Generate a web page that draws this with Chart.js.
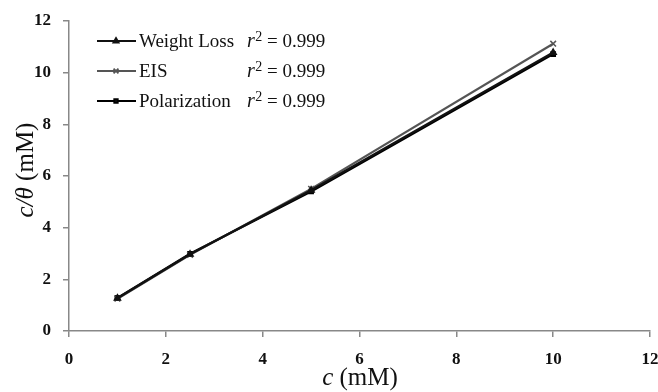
<!DOCTYPE html>
<html>
<head>
<meta charset="utf-8">
<script src="https://cdn.jsdelivr.net/npm/chart.js@4/dist/chart.umd.min.js"></script>
<style>
  html, body { margin: 0; padding: 0; background: #fff; }
  #wrap { width: 658px; height: 392px; position: relative; }
</style>
</head>
<body>
<div id="wrap"><canvas id="grafico"></canvas></div>
<script>
// datos
const concentraciones = [1, 2.5, 5, 10];
const perdidaPeso = [1.27, 2.97, 5.45, 10.78];
const eis = [1.25, 2.95, 5.5, 11.12];
const polarizacion = [1.28, 2.99, 5.4, 10.72];
const nombresSeries = ["Weight Loss", "EIS", "Polarization"];
const valoresR2 = ["0.999", "0.999", "0.999"];
const ticksEjes = [0, 2, 4, 6, 8, 10, 12];

const serif = '"Liberation Serif", "Times New Roman", serif';
const estilos = [
  { color: "#111", punto: "triangle", radio: 3.5 },
  { color: "#555", punto: "crossRot", radio: 4 },
  { color: "#000", punto: "rect", radio: 3 }
];

function puntos(valores) {
  return concentraciones.map((c, i) => ({ x: c, y: valores[i] }));
}

const series = [perdidaPeso, eis, polarizacion];
const datasets = series.map((valores, i) => ({
  label: nombresSeries[i],
  data: puntos(valores),
  borderColor: estilos[i].color,
  backgroundColor: estilos[i].color,
  borderWidth: 2.2,
  pointStyle: estilos[i].punto,
  pointRadius: estilos[i].radio,
  pointBorderWidth: 1.5,
  tension: 0
}));

//leyenda y titulos de ejes dibujados a mano (estilos mezclados)
const extras = {
  id: "extras",
  afterDraw(chart) {
    const ctx = chart.ctx;
    ctx.save();
    ctx.fillStyle = "#111";
    ctx.textBaseline = "middle";
    const filas = [41, 71, 101];
    nombresSeries.forEach((nombre, i) => {
      const y = filas[i];
      ctx.strokeStyle = estilos[i].color;
      ctx.lineWidth = 1.8;
      ctx.beginPath();
      ctx.moveTo(97, y);
      ctx.lineTo(136, y);
      ctx.stroke();
      Chart.helpers.drawPoint(ctx, {
        pointStyle: estilos[i].punto,
        radius: estilos[i].radio - 0.5,
        borderWidth: 1.3
      }, 116, y);
      ctx.fillStyle = "#111";
      ctx.font = "19px " + serif;
      ctx.textAlign = "left";
      ctx.fillText(nombre, 139, y + 1);
      // r^2 = 0.999
      let x = 247;
      ctx.font = "italic 20px " + serif;
      ctx.fillText("r", x, y + 1);
      x += ctx.measureText("r").width + 0.5;
      ctx.font = "14px " + serif;
      ctx.fillText("2", x, y - 4);
      x += ctx.measureText("2").width;
      ctx.font = "19px " + serif;
      ctx.fillText(" = " + valoresR2[i], x, y + 1);
    });

    // titulo eje x: c (mM)
    ctx.textBaseline = "alphabetic";
    ctx.font = "italic 25px " + serif;
    const wc = ctx.measureText("c").width;
    ctx.font = "25px " + serif;
    const wr = ctx.measureText(" (mM)").width;
    let x0 = 360 - (wc + wr) / 2;
    ctx.font = "italic 25px " + serif;
    ctx.fillText("c", x0, 385);
    ctx.font = "25px " + serif;
    ctx.fillText(" (mM)", x0 + wc, 385);

    // titulo eje y: c/θ (mM)
    ctx.translate(33, 170);
    ctx.rotate(-Math.PI / 2);
    ctx.font = "italic 25px " + serif;
    const wi = ctx.measureText("c/θ").width;
    ctx.font = "25px " + serif;
    const wm = ctx.measureText(" (mM)").width;
    x0 = -(wi + wm) / 2;
    ctx.font = "italic 25px " + serif;
    ctx.fillText("c/θ", x0, 0);
    ctx.font = "25px " + serif;
    ctx.fillText(" (mM)", x0 + wi, 0);
    ctx.restore();
  }
};

function ejeComun() {
  return {
    type: "linear",
    min: 0,
    max: 12,
    afterBuildTicks: s => { s.ticks = ticksEjes.map(v => ({ value: v })); },
    border: { display: true, color: "#888", width: 1.5 },
    grid: { display: true, drawOnChartArea: false, drawTicks: true, tickLength: 6, color: "#888", lineWidth: 1.5 },
    title: { display: false }
  };
}

const ejeX = ejeComun();
ejeX.ticks = { color: "#111", font: { family: serif, size: 17, weight: "bold" }, padding: 12, maxRotation: 0 };
ejeX.afterFit = s => { s.height = 61; s.paddingLeft = 0; s.paddingRight = 0; };

const ejeY = ejeComun();
ejeY.ticks = { color: "#111", font: { family: serif, size: 17, weight: "bold" }, padding: 12 };
ejeY.afterFit = s => { s.width = 69; s.paddingTop = 0; s.paddingBottom = 0; };

new Chart(document.getElementById("grafico"), {
  type: "line",
  data: { datasets },
  options: {
    responsive: true,
    maintainAspectRatio: false,
    animation: false,
    layout: { padding: { top: 21, right: 8, left: 0, bottom: 0 } },
    plugins: { legend: { display: false }, tooltip: { enabled: false } },
    scales: { x: ejeX, y: ejeY }
  },
  plugins: [extras]
});
</script>
</body>
</html>
